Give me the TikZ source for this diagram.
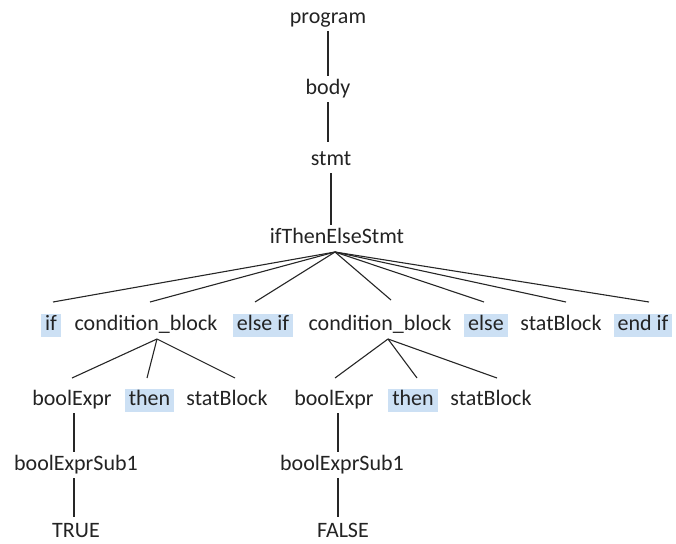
\documentclass[tikz,border=0pt]{standalone}
\usepackage{fontspec}
\setmainfont{Carlito}
\usetikzlibrary{calc}
\definecolor{hl}{RGB}{204,224,244}
\definecolor{txt}{RGB}{35,35,35}
\tikzset{
  lbl/.style={text=txt, font=\fontsize{22}{26}\selectfont, inner xsep=4pt, inner ysep=1pt,
    text height=16pt, text depth=5pt, outer sep=1.5pt},
  kw/.style={lbl, fill=hl},
  edge/.style={draw=black!85, line width=1.1pt}
}
\begin{document}
\begin{tikzpicture}[x=1pt,y=1pt]
\useasboundingbox (0,0) rectangle (676,-543);
% vertical chain
\node[lbl] (program) at (328,-18) {program};
\node[lbl] (body) at (328,-89) {body};
\node[lbl] (stmt) at (331,-160) {stmt};
\node[lbl] (ite) at (337,-238) {ifThenElseStmt};
% row 1
\node[kw]  (if)   at (51,-325) {if};
\node[lbl] (cb1)  at (146,-325) {condition\_block};
\node[kw]  (elif) at (263,-325) {else if};
\node[lbl] (cb2)  at (380,-325) {condition\_block};
\node[kw]  (else) at (486,-325) {else};
\node[lbl] (sb)   at (561,-325) {statBlock};
\node[kw]  (endif) at (643,-325) {end if};
% row 2
\node[lbl] (be1) at (72,-400) {boolExpr};
\node[kw]  (th1) at (149.5,-400) {then};
\node[lbl] (sb1) at (227,-400) {statBlock};
\node[lbl] (be2) at (334,-400) {boolExpr};
\node[kw]  (th2) at (413,-400) {then};
\node[lbl] (sb2) at (491,-400) {statBlock};
% row 3
\node[lbl] (bes1) at (76,-465) {boolExprSub1};
\node[lbl] (bes2) at (342,-465) {boolExprSub1};
% row 4
\node[lbl] (t) at (76,-532) {TRUE};
\node[lbl] (f) at (343,-532) {FALSE};

% chain edges
\draw[edge] (program.south) -- (program.south |- body.north);
\draw[edge] (body.south) -- ($(body.south |- stmt.north)+(0,5)$);
\draw[edge] (stmt.south) -- (stmt.south |- ite.north);
% fan from ifThenElseStmt
\coordinate (ap) at ($(ite.south)+(-2,-1)$);
\draw[edge] (ap) -- ($(if.north)+(2,10)$);
\draw[edge] (ap) -- ($(cb1.north)+(4,10)$);
\draw[edge] (ap) -- ($(elif.north)+(-8,10)$);
\draw[edge] (ap) -- ($(cb2.north)+(11,12)$);
\draw[edge] (ap) -- ($(else.north)+(-2,10)$);
\draw[edge] (ap) -- ($(sb.north)+(5,10)$);
\draw[edge] (ap) -- ($(endif.north)+(6,10)$);
% condition block 1
\coordinate (c1) at ($(cb1.south)+(11,-1)$);
\draw[edge] (c1) -- ($(be1.north)+(0,9)$);
\draw[edge] (c1) -- ($(th1.north)+(-2.5,9)$);
\draw[edge] (c1) -- ($(sb1.north)+(8,9)$);
% condition block 2
\coordinate (c2) at ($(cb2.south)+(8,-1)$);
\draw[edge] (c2) -- ($(be2.north)+(1,9)$);
\draw[edge] (c2) -- ($(th2.north)+(4,9)$);
\draw[edge] (c2) -- ($(sb2.north)+(6,9)$);
% lower chains
\draw[edge] ($(be1.south)+(2,0)$) -- ($(be1.south |- bes1.north)+(2,0)$);
\draw[edge] ($(bes1.south)+(-2,0)$) -- ($(bes1.south |- t.north)+(-2,2)$);
\draw[edge] ($(be2.south)+(4,0)$) -- ($(be2.south |- bes2.north)+(4,0)$);
\draw[edge] ($(bes2.south)+(-4,0)$) -- ($(bes2.south |- f.north)+(-4,2)$);
\end{tikzpicture}
\end{document}
